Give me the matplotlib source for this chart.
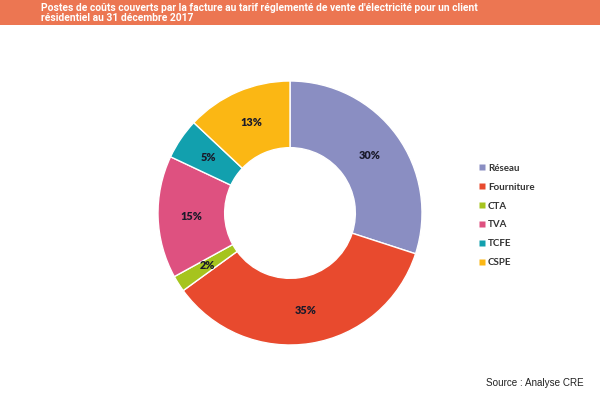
import matplotlib.pyplot as plt
from matplotlib.patches import Rectangle
from matplotlib.lines import Line2D

# Cost shares of the regulated electricity tariff (31 Dec 2017)
labels = ["Réseau", "Fourniture", "CTA", "TVA", "TCFE", "CSPE"]
shares = [30, 35, 2, 15, 5, 13]
colors = ["#8A8EC2", "#E84A2E", "#A6C41E", "#DE5180", "#12A0AE", "#FBB714"]

title = ("Postes de coûts couverts par la facture au tarif réglementé de vente d'électricité pour un client\n"
         "résidentiel au 31 décembre 2017")
source = "Source : Analyse CRE"

fig = plt.figure(figsize=(6, 4), dpi=100)
fig.patch.set_facecolor("white")

# orange header band
fig.patches.append(Rectangle((0, 1 - 25 / 400), 1, 25 / 400, transform=fig.transFigure,
                             facecolor="#EC7652", edgecolor="none", zorder=0))
fig.text(41 / 600, 1 - 13 / 400, title, color="white", fontsize=7.4, fontweight="bold",
         family="Roboto", va="center", ha="left", linespacing=1.1)

ax = fig.add_axes([(290 - 132) / 600, (187 - 132) / 400, 264 / 600, 264 / 400])
wedges, texts, autotexts = ax.pie(
    shares, colors=colors, startangle=90, counterclock=False,
    autopct="%d%%", pctdistance=0.745,
    wedgeprops=dict(width=0.505, edgecolor="white", linewidth=1.0),
    textprops=dict(fontsize=7.8, fontweight="heavy", color="#1A1A2A", family="Lato"))
ax.set_xlim(-1, 1)
ax.set_ylim(-1, 1)
ax.set_aspect("equal")

handles = [Line2D([], [], marker="s", linestyle="none", markersize=4.5,
                  markerfacecolor=c, markeredgecolor="none") for c in colors]
fig.legend(handles, labels, loc="upper left", bbox_to_anchor=(470 / 600, 1 - 155 / 400),
           frameon=False, handlelength=0.6, handletextpad=0.35, labelspacing=1.02,
           prop=dict(family="Lato", weight="bold", size=7), labelcolor="#333333")

fig.text(486 / 600, 1 - 383 / 400, source, fontsize=7.1, color="#222222",
         family="Liberation Sans", va="center", ha="left")

fig.savefig("out.png", dpi=100)
